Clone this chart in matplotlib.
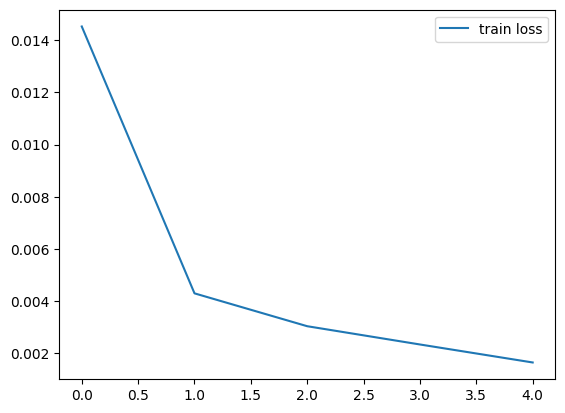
import matplotlib
matplotlib.use("Agg")
import matplotlib.pyplot as plt

epochs = [0, 1, 2, 3, 4]
train_loss = [0.01453, 0.00430, 0.00304, 0.00234, 0.00165]

fig, ax = plt.subplots(figsize=(6.4, 4.8), dpi=100)
ax.plot(epochs, train_loss, label="train loss")
ax.legend()
fig.savefig("out.png", bbox_inches="tight")
